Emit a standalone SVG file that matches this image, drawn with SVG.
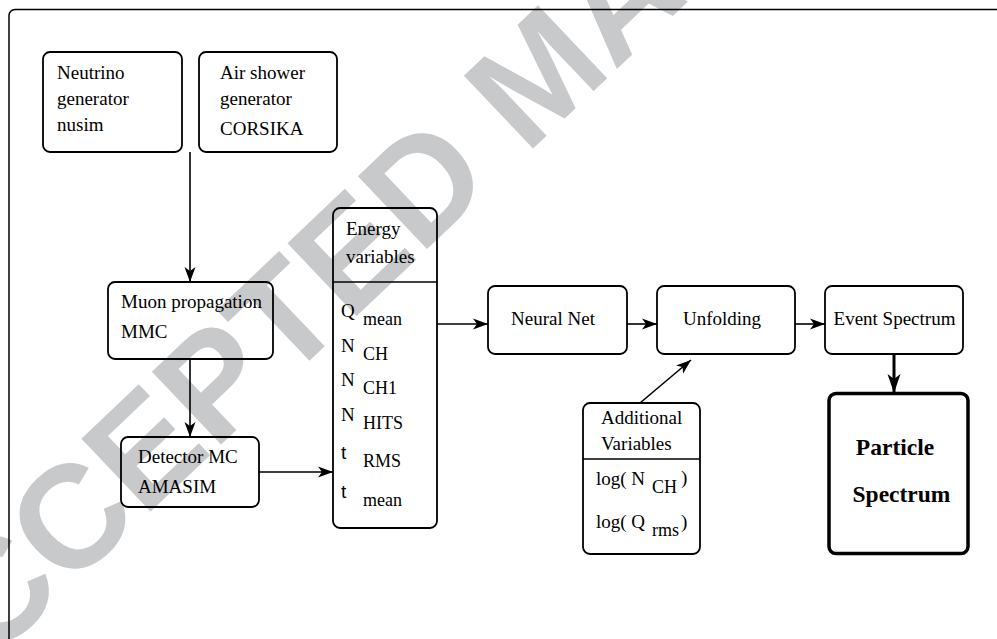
<svg xmlns="http://www.w3.org/2000/svg" width="997" height="639" viewBox="0 0 997 639">
<style>
.box{fill:none;stroke:#000;stroke-width:1.8}
.t{font-family:"Liberation Serif",serif;font-size:19px;fill:#000}
.s{font-family:"Liberation Serif",serif;font-size:18px;fill:#000}
.ts{font-family:"Liberation Sans",sans-serif;font-size:19px;fill:#000}
.c{text-anchor:middle}
.b{font-weight:bold;font-size:23.5px}
.ln{stroke:#000;stroke-width:1.6;fill:none}
.wm{font-family:"Liberation Sans",sans-serif;font-weight:bold;font-size:146px;fill:#c8c9cb}
</style>
<defs>
<marker id="ah" markerWidth="16" markerHeight="12" refX="15" refY="6" orient="auto" markerUnits="userSpaceOnUse"><path d="M0,0.5 L15,6 L0,11.5 L4,6 z" fill="#000"/></marker>
<marker id="ahb" markerWidth="20" markerHeight="14" refX="19" refY="7" orient="auto" markerUnits="userSpaceOnUse"><path d="M0,0.5 L19,7 L0,13.5 L5,7 z" fill="#000"/></marker>
</defs>
<rect width="997" height="639" fill="#fff"/>
<text class="wm" transform="translate(-86,736) rotate(-43.5)">ACCEPTED MANUSCRIPT</text>
<rect x="9" y="9.5" width="1000" height="700" rx="6" fill="none" stroke="#000" stroke-width="1.5"/>

<g id="neutrino">
<rect class="box" x="43" y="52" width="139" height="100" rx="7"/>
<text class="t" x="57" y="79">Neutrino</text>
<text class="t" x="57" y="105">generator</text>
<text class="t" x="57" y="131">nusim</text>
</g>
<g id="airshower">
<rect class="box" x="199" y="52" width="138" height="100" rx="7"/>
<text class="t" x="220" y="79">Air shower</text>
<text class="t" x="220" y="105">generator</text>
<text class="t" x="220" y="135">CORSIKA</text>
</g>
<g id="muon">
<rect class="box" x="108" y="282" width="165" height="77" rx="7"/>
<text class="t" x="121" y="308">Muon propagation</text>
<text class="t" x="121" y="338">MMC</text>
</g>
<g id="detector">
<rect class="box" x="121" y="437" width="138" height="70" rx="7"/>
<text class="t" x="138" y="463">Detector MC</text>
<text class="t" x="138" y="493">AMASIM</text>
</g>
<g id="energy">
<rect class="box" x="333" y="208" width="104" height="320" rx="7"/>
<line class="ln" x1="333" y1="282" x2="437" y2="282"/>
<text class="t" x="346" y="235">Energy</text>
<text class="t" x="346" y="263">variables</text>
<text class="t" x="341" y="317">Q</text><text class="s" x="363" y="325">mean</text>
<text class="t" x="341" y="352">N</text><text class="s" x="363" y="360">CH</text>
<text class="t" x="341" y="386">N</text><text class="s" x="363" y="394">CH1</text>
<text class="t" x="341" y="421">N</text><text class="s" x="363" y="429">HITS</text>
<text class="ts" x="341" y="459">t</text><text class="s" x="363" y="467">RMS</text>
<text class="ts" x="341" y="498">t</text><text class="s" x="363" y="506">mean</text>
</g>
<g id="neuralnet">
<rect class="box" x="488" y="286" width="139" height="68" rx="7"/>
<text class="t c" x="553" y="325">Neural Net</text>
</g>
<g id="unfolding">
<rect class="box" x="657" y="286" width="138" height="68" rx="7"/>
<text class="t c" x="722" y="325">Unfolding</text>
</g>
<g id="eventspectrum">
<rect class="box" x="825" y="286" width="138" height="68" rx="7"/>
<text class="t c" x="894.5" y="325">Event Spectrum</text>
</g>
<g id="particlespectrum">
<rect x="829" y="393.5" width="139" height="160" rx="7" fill="none" stroke="#000" stroke-width="3.5"/>
<text class="t b c" x="895" y="455">Particle</text>
<text class="t b c" x="901.5" y="502">Spectrum</text>
</g>
<g id="additional">
<rect class="box" x="583" y="403" width="117" height="151" rx="7"/>
<line class="ln" x1="583" y1="459" x2="700" y2="459"/>
<text class="t" x="601" y="424">Additional</text>
<text class="t" x="601" y="450">Variables</text>
<text class="t" x="596" y="485">log( N</text><text class="s" x="652" y="493">CH</text><text class="t" x="681" y="484">)</text>
<text class="t" x="596" y="528">log( Q</text><text class="s" x="652" y="536">rms</text><text class="t" x="681" y="528">)</text>
</g>

<g id="connectors">
<line class="ln" x1="190" y1="152" x2="190" y2="282" marker-end="url(#ah)"/>
<line class="ln" x1="190" y1="359" x2="190" y2="437" marker-end="url(#ah)"/>
<line class="ln" x1="259" y1="472" x2="333" y2="472" marker-end="url(#ah)"/>
<line class="ln" x1="437" y1="324" x2="488" y2="324" marker-end="url(#ah)"/>
<line class="ln" x1="627" y1="324" x2="657" y2="324" marker-end="url(#ah)"/>
<line class="ln" x1="795" y1="324" x2="825" y2="324" marker-end="url(#ah)"/>
<line class="ln" x1="640" y1="403" x2="691" y2="360" marker-end="url(#ah)"/>
<line x1="894" y1="354" x2="894" y2="393" stroke="#000" stroke-width="3" marker-end="url(#ahb)"/>
</g>
</svg>
